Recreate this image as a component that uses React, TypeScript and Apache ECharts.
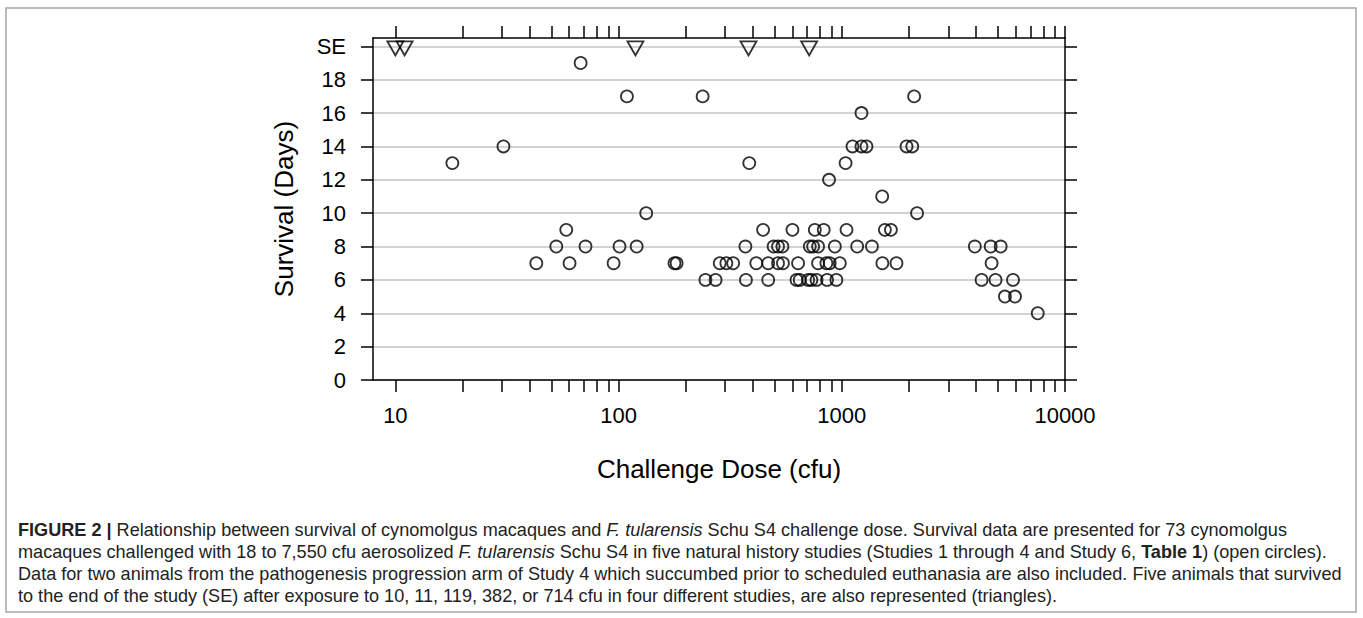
import React, { useEffect, useRef } from 'react';
import * as echarts from 'echarts';

// Open circles: challenge dose (cfu) and survival (days)
const circleDose = [
  18, 30.5, 42.8, 52.6, 58.3, 60.3, 67.6, 71.1, 95, 101,
  109, 120.5, 133, 178, 182, 238, 245, 272, 284, 304,
  326, 370, 372, 385, 414, 444, 468, 468, 495, 518,
  542, 518, 545, 601, 637, 627, 648, 707, 719, 731,
  744, 757, 771, 783, 783, 830, 853, 859, 877, 883,
  931, 946, 980, 1040, 1050, 1117, 1172, 1225, 1225, 1290,
  1365, 1517, 1520, 1560, 1660, 1758, 1950, 2069, 2109, 2174,
  3945, 4230, 4645, 4690, 4885, 5150, 5380, 5850, 5970, 7550,
];
const circleDays = [
  13, 14, 7, 8, 9, 7, 19, 8, 7, 8,
  17, 8, 10, 7, 7, 17, 6, 6, 7, 7,
  7, 8, 6, 13, 7, 9, 7, 6, 8, 8,
  8, 7, 7, 9, 7, 6, 6, 6, 8, 6,
  8, 9, 6, 8, 7, 9, 7, 6, 12, 7,
  8, 6, 7, 13, 9, 14, 8, 16, 14, 14,
  8, 11, 7, 9, 9, 7, 14, 14, 17, 10,
  8, 6, 8, 7, 6, 8, 5, 6, 5, 4,
];

// Triangles: survived to end of study (SE)
const seDose = [10, 11, 119, 382, 714];
const seLevel = 20;

// Axes
const yTicks = [0, 2, 4, 6, 8, 10, 12, 14, 16, 18, 20];
const yTickLabels = ['0', '2', '4', '6', '8', '10', '12', '14', '16', '18', 'SE'];
const xLabelTicks = [10, 100, 1000, 10000];
const xAllTicks = [
  10, 20, 30, 40, 50, 60, 70, 80, 90,
  100, 200, 300, 400, 500, 600, 700, 800, 900,
  1000, 2000, 3000, 4000, 5000, 6000, 7000, 8000, 9000,
  10000,
];
const xTitle = 'Challenge Dose (cfu)';
const yTitle = 'Survival (Days)';

const captionLines = [
  '{b|FIGURE 2 |}{n| Relationship between survival of cynomolgus macaques and }{i|F. tularensis}{n| Schu S4 challenge dose. Survival data are presented for 73 cynomolgus}',
  '{n|macaques challenged with 18 to 7,550 cfu aerosolized }{i|F. tularensis}{n| Schu S4 in five natural history studies (Studies 1 through 4 and Study 6, }{b|Table 1}{n|) (open circles).}',
  '{n|Data for two animals from the pathogenesis progression arm of Study 4 which succumbed prior to scheduled euthanasia are also included. Five animals that survived}',
  '{n|to the end of the study (SE) after exposure to 10, 11, 119, 382, or 714 cfu in four different studies, are also represented (triangles).}',
];

const FONT = 'Liberation Sans, Arial, sans-serif';
const CAP_SIZE = 18.1;

export default function App() {
  const ref = useRef<HTMLDivElement>(null);
  useEffect(() => {
    const chart = echarts.init(ref.current as HTMLDivElement, null, { renderer: 'svg' });
    const axisLineStyle = { color: '#000', width: 1.5 };
    const xAxisBase = {
      type: 'log',
      logBase: 10,
      min: 7.94,
      max: 10000,
      gridIndex: 0,
      axisLine: { show: true, onZero: false, lineStyle: axisLineStyle },
      axisTick: { show: true, inside: false, length: 12, lineStyle: axisLineStyle, customValues: xAllTicks },
      splitLine: { show: false },
      minorTick: { show: false },
      minorSplitLine: { show: false },
    };
    const capRich = {
      n: { fontFamily: FONT, fontSize: CAP_SIZE, color: '#222' },
      b: { fontFamily: FONT, fontSize: CAP_SIZE, fontWeight: 'bold', color: '#222' },
      i: { fontFamily: FONT, fontSize: CAP_SIZE, fontStyle: 'italic', color: '#222' },
    };
    const option: any = {
      animation: false,
      backgroundColor: '#fff',
      grid: { left: 373, top: 38, width: 692, height: 342, containLabel: false },
      xAxis: [
        {
          ...xAxisBase,
          position: 'bottom',
          name: xTitle,
          nameLocation: 'middle',
          nameGap: 76,
          nameTextStyle: { fontFamily: FONT, fontSize: 26, color: '#000' },
          axisLabel: {
            show: true,
            margin: 24,
            fontFamily: FONT,
            fontSize: 22,
            color: '#000',
            customValues: xLabelTicks,
            formatter: (v: number) => String(Math.round(v)),
          },
        },
        {
          ...xAxisBase,
          position: 'top',
          axisLabel: { show: false },
        },
      ],
      yAxis: [
        {
          type: 'value',
          min: 0,
          max: 20.5,
          position: 'left',
          name: yTitle,
          nameLocation: 'middle',
          nameGap: 76,
          nameTextStyle: { fontFamily: FONT, fontSize: 26, color: '#000' },
          axisLine: { show: true, onZero: false, lineStyle: axisLineStyle },
          axisTick: { show: true, inside: false, length: 12, lineStyle: axisLineStyle, customValues: yTicks },
          axisLabel: {
            show: true,
            margin: 27,
            fontFamily: FONT,
            fontSize: 22,
            color: '#000',
            customValues: yTicks,
            formatter: (v: number) => yTickLabels[yTicks.indexOf(v)] ?? '',
          },
          splitLine: { show: true, lineStyle: { color: '#c4c4c4', width: 1.5 } },
        },
        {
          type: 'value',
          min: 0,
          max: 20.5,
          position: 'right',
          axisLine: { show: true, onZero: false, lineStyle: axisLineStyle },
          axisTick: { show: true, inside: false, length: 12, lineStyle: axisLineStyle, customValues: yTicks },
          axisLabel: { show: false },
          splitLine: { show: false },
        },
      ],
      series: [
        {
          type: 'scatter',
          name: 'circles',
          xAxisIndex: 0,
          yAxisIndex: 0,
          symbol: 'circle',
          symbolSize: 12,
          itemStyle: { color: 'rgba(0,0,0,0)', borderColor: '#000', borderWidth: 1.8 },
          emphasis: { disabled: true },
          data: circleDose.map((d, i) => [d, circleDays[i]]),
          z: 5,
        },
        {
          type: 'scatter',
          name: 'triangles',
          xAxisIndex: 0,
          yAxisIndex: 0,
          symbol: 'triangle',
          symbolRotate: 180,
          symbolSize: [16, 14],
          symbolOffset: [0, 2],
          clip: false,
          itemStyle: { color: 'rgba(0,0,0,0)', borderColor: '#000', borderWidth: 1.8 },
          emphasis: { disabled: true },
          data: seDose.map((d) => [d, seLevel]),
          z: 5,
        },
      ],
      graphic: [
        {
          type: 'rect',
          shape: { x: 6, y: 8, width: 1350, height: 604 },
          style: { fill: 'none', stroke: '#a6a6a6', lineWidth: 1.5 },
          silent: true,
        },
        ...captionLines.map((line, k) => ({
          type: 'text',
          x: 18,
          y: 530 + k * 22,
          style: {
            text: line,
            rich: capRich,
            fontFamily: FONT,
            fontSize: CAP_SIZE,
            fill: '#222',
            verticalAlign: 'middle',
            align: 'left',
          },
          silent: true,
        })),
      ],
    };
    chart.setOption(option);
    return () => chart.dispose();
  }, []);
  return (
    <div
      ref={ref}
      style={{ position: 'absolute', left: 0, top: 0, width: 1363, height: 618 }}
    />
  );
}
